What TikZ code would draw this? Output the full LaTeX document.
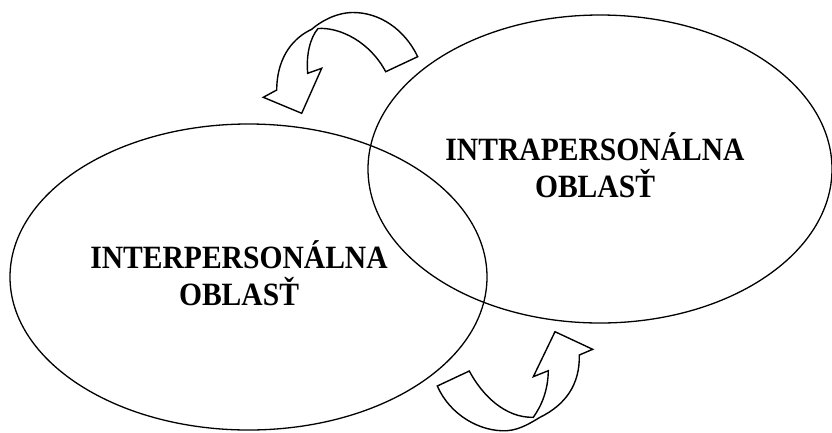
\documentclass[tikz,border=0pt]{standalone}
\usepackage{fontspec}
\setmainfont{Liberation Serif}
\usetikzlibrary{shapes.geometric}
\tikzset{
  area/.style={ellipse, draw, line width=1.3pt, inner sep=0pt, outer sep=0pt},
  areatext/.style={align=center, anchor=base, font=\fontsize{32.5}{37}\selectfont\bfseries},
  blockarrow/.style={draw, line width=1.4pt, line join=miter}
}
\begin{document}
\begin{tikzpicture}[x=1pt,y=-1pt]
\useasboundingbox (0,0) rectangle (832,432);
% ellipses
\node[area, minimum width=477pt, minimum height=306pt] (inter) at (248.5,277) {};
\node[area, minimum width=464pt, minimum height=308pt] (intra) at (600,169) {};
% labels (anchor base = baseline of the last line)
\node[areatext] (interlabel) at (239,305) {\scalebox{0.91}[1]{INTERPERSONÁLNA}\\\scalebox{0.91}[1]{OBLASŤ}};
\node[areatext] (intralabel) at (595,197) {\scalebox{0.91}[1]{INTRAPERSONÁLNA}\\\scalebox{0.91}[1]{OBLASŤ}};
% top curved arrow
\draw[blockarrow] (417.7,56.7) .. controls (405,30) and (380,12) .. (352,12.5)
  .. controls (335,13) and (320,22) .. (311.7,29.3)
  .. controls (295,37) and (277,55) .. (276.7,90)
  -- (263.3,97.3) -- (301.7,113.3) -- (321.7,68.3) -- (307.7,73.3)
  .. controls (306,55) and (310,38) .. (318,28.5)
  .. controls (340,27) and (370,42) .. (385.7,71.7) -- cycle;
% bottom curved arrow
\draw[blockarrow] (437.3,386) .. controls (450,415) and (480,432) .. (506.7,430.7)
  .. controls (520,430) and (532,422) .. (540,417.3)
  .. controls (565,405) and (580,385) .. (579.3,355)
  -- (592.7,349.3) -- (555,331.7) -- (533.3,376.7) -- (548.3,370.7)
  .. controls (548,390) and (542,405) .. (533.3,417.3)
  .. controls (505,418) and (482,395) .. (469.3,371) -- cycle;
\end{tikzpicture}
\end{document}
